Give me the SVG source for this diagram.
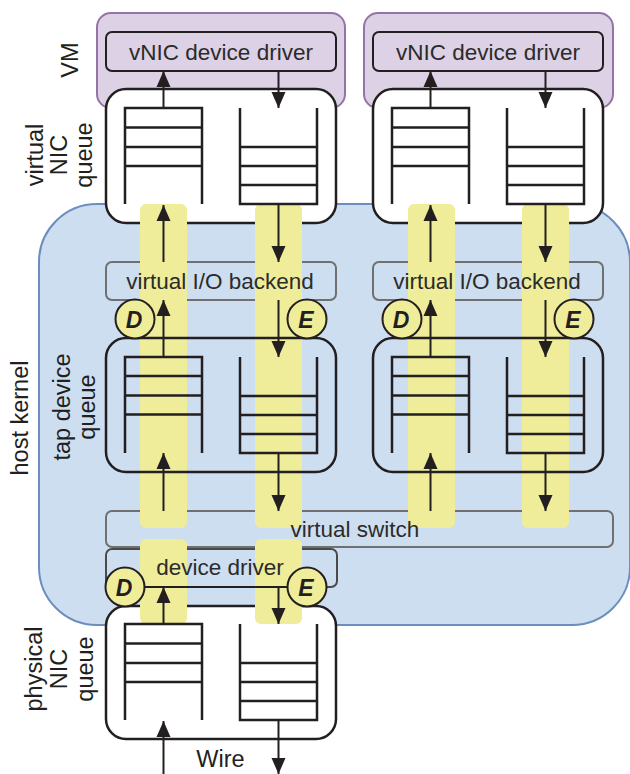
<svg xmlns="http://www.w3.org/2000/svg" width="630" height="774" viewBox="0 0 630 774">
<defs>
<marker id="ah" markerUnits="userSpaceOnUse" markerWidth="17" markerHeight="17" viewBox="0 0 17 17" refX="16" refY="8.5" orient="auto">
<path d="M0,1.5 L16,8.5 L0,15.5 z" fill="#231f20"/>
</marker>
<style>
.vm{fill:#ddd1e5;stroke:#9673a6;stroke-width:2}
.hk{fill:#cddef0;stroke:#6c8ebf;stroke-width:2}
.qbox{fill:#ffffff;stroke:#231f20;stroke-width:2.5}
.tbox{fill:none;stroke:#231f20;stroke-width:2.5}
.drv{fill:none;stroke:#231f20;stroke-width:2}
.gbox{fill:none;stroke:#707070;stroke-width:2}
.dbox{fill:none;stroke:#4a4a4a;stroke-width:2}
.ys{fill:#efed99}
.q{fill:none;stroke:#231f20;stroke-width:2.5}
.ar{fill:none;stroke:#231f20;stroke-width:2;marker-end:url(#ah)}
.ln{fill:none;stroke:#231f20;stroke-width:2}
.circ{fill:#efed99;stroke:#231f20;stroke-width:2}
.t{font-family:"Liberation Sans",Arial,sans-serif;font-size:22.5px;fill:#2b2b2b;text-anchor:middle}
.lab{font-family:"Liberation Sans",Arial,sans-serif;font-size:23.5px;fill:#231f20;text-anchor:middle}
.de{font-family:"Liberation Sans",Arial,sans-serif;font-size:23px;font-weight:bold;font-style:italic;fill:#231f20;text-anchor:middle}
</style>
</defs>

<!-- background containers -->
<g id="vm-left"><rect class="vm" x="97" y="13" width="248" height="95" rx="14"/></g>
<g id="vm-right"><rect class="vm" x="364" y="13" width="249" height="95" rx="14"/></g>
<g id="host-kernel"><rect class="hk" x="39" y="204" width="591" height="421" rx="58"/></g>

<!-- white queue boxes -->
<g id="vnic-queue-left-box"><rect class="qbox" x="106" y="89" width="230" height="134" rx="20"/></g>
<g id="vnic-queue-right-box"><rect class="qbox" x="373" y="89" width="230" height="134" rx="20"/></g>
<g id="phys-queue-box"><rect class="qbox" x="106" y="606" width="230" height="133" rx="20"/></g>

<!-- gray boxes -->
<g id="backend-left-box"><rect class="gbox" x="106" y="262" width="230" height="38" rx="6"/></g>
<g id="backend-right-box"><rect class="gbox" x="373" y="262" width="230" height="38" rx="6"/></g>
<g id="vswitch-box"><rect class="gbox" x="106" y="511" width="507" height="36" rx="6"/></g>
<g id="devdrv-box"><rect class="dbox" x="106" y="549" width="231" height="38" rx="6"/></g>

<!-- yellow highlight strips -->
<g id="highlights">
<rect class="ys" x="140" y="204" width="47" height="324" rx="6"/>
<rect class="ys" x="255" y="204" width="47" height="324" rx="6"/>
<rect class="ys" x="408" y="204" width="47" height="324" rx="6"/>
<rect class="ys" x="522" y="204" width="47" height="324" rx="6"/>
<rect class="ys" x="140" y="539" width="47" height="85" rx="6"/>
<rect class="ys" x="255" y="539" width="47" height="85" rx="6"/>
</g>

<!-- texts of gray boxes -->
<g id="backend-left"><text class="t" x="220" y="289">virtual I/O backend</text></g>
<g id="backend-right"><text class="t" x="487" y="289">virtual I/O backend</text></g>
<g id="vswitch"><text class="t" x="355" y="537">virtual switch</text></g>
<g id="devdrv"><text class="t" x="220" y="575">device driver</text><line class="ln" x1="125" y1="587" x2="307" y2="587"/></g>

<!-- vNIC drivers -->
<g id="vnic-driver-left"><rect class="drv" x="106" y="32" width="230" height="39" rx="6"/><text class="t" x="221" y="60">vNIC device driver</text></g>
<g id="vnic-driver-right"><rect class="drv" x="373" y="32" width="230" height="39" rx="6"/><text class="t" x="488" y="60">vNIC device driver</text></g>

<!-- tap boxes -->
<g id="tap-left-box"><rect class="tbox" x="106" y="338" width="230" height="134" rx="20"/></g>
<g id="tap-right-box"><rect class="tbox" x="373" y="338" width="230" height="134" rx="20"/></g>

<!-- queues -->
<g id="queues">
<path class="q" d="M125,204 V108 H202 V204 M125,127.5 H202 M125,147 H202 M125,166 H202"/>
<path class="q" d="M240,108 V204 H317 V108 M240,147 H317 M240,166 H317 M240,185 H317"/>
<path class="q" d="M392,204 V108 H469 V204 M392,127.5 H469 M392,147 H469 M392,166 H469"/>
<path class="q" d="M507,108 V204 H584 V108 M507,147 H584 M507,166 H584 M507,185 H584"/>
<path class="q" d="M125,453 V357 H202 V453 M125,376 H202 M125,395.5 H202 M125,414.5 H202"/>
<path class="q" d="M240,357 V453 H317 V357 M240,396 H317 M240,415 H317 M240,434 H317"/>
<path class="q" d="M392,453 V357 H469 V453 M392,376 H469 M392,395.5 H469 M392,414.5 H469"/>
<path class="q" d="M507,357 V453 H584 V357 M507,396 H584 M507,415 H584 M507,434 H584"/>
<path class="q" d="M125,720 V624 H202 V720 M125,643.5 H202 M125,663 H202 M125,682 H202"/>
<path class="q" d="M240,624 V720 H317 V624 M240,663 H317 M240,682 H317 M240,701 H317"/>
</g>

<!-- connectors -->
<g id="connectors">
<line class="ar" x1="163.5" y1="108" x2="163.5" y2="71"/>
<line class="ar" x1="278.5" y1="71" x2="278.5" y2="108"/>
<line class="ar" x1="163.5" y1="262" x2="163.5" y2="205"/>
<line class="ar" x1="278.5" y1="204" x2="278.5" y2="262"/>
<line class="ar" x1="163.5" y1="357" x2="163.5" y2="300"/>
<line class="ar" x1="278.5" y1="300" x2="278.5" y2="357"/>
<line class="ar" x1="163.5" y1="511" x2="163.5" y2="453"/>
<line class="ar" x1="278.5" y1="453" x2="278.5" y2="511"/>

<line class="ar" x1="430.5" y1="108" x2="430.5" y2="71"/>
<line class="ar" x1="545.5" y1="71" x2="545.5" y2="108"/>
<line class="ar" x1="430.5" y1="262" x2="430.5" y2="205"/>
<line class="ar" x1="545.5" y1="204" x2="545.5" y2="262"/>
<line class="ar" x1="430.5" y1="357" x2="430.5" y2="300"/>
<line class="ar" x1="545.5" y1="300" x2="545.5" y2="357"/>
<line class="ar" x1="430.5" y1="511" x2="430.5" y2="453"/>
<line class="ar" x1="545.5" y1="453" x2="545.5" y2="511"/>

<line class="ar" x1="163.5" y1="624" x2="163.5" y2="587"/>
<line class="ar" x1="278.5" y1="587" x2="278.5" y2="624"/>
<line class="ar" x1="163.5" y1="774" x2="163.5" y2="721"/>
<line class="ar" x1="278.5" y1="720" x2="278.5" y2="774"/>
</g>

<!-- D/E markers -->
<g id="d-tap-left"><circle class="circ" cx="135" cy="319" r="19.5"/><text class="de" x="134" y="327.5">D</text></g>
<g id="e-tap-left"><circle class="circ" cx="307" cy="319" r="19.5"/><text class="de" x="306" y="327.5">E</text></g>
<g id="d-tap-right"><circle class="circ" cx="402" cy="319" r="19.5"/><text class="de" x="401" y="327.5">D</text></g>
<g id="e-tap-right"><circle class="circ" cx="574" cy="319" r="19.5"/><text class="de" x="573" y="327.5">E</text></g>
<g id="d-phys"><circle class="circ" cx="125" cy="587" r="19.5"/><text class="de" x="124" y="595.5">D</text></g>
<g id="e-phys"><circle class="circ" cx="307" cy="587" r="19.5"/><text class="de" x="306" y="595.5">E</text></g>

<!-- side labels -->
<g id="label-vm"><text class="lab" transform="translate(78,60) rotate(-90)">VM</text></g>
<g id="label-vnic-queue">
<text class="lab" transform="translate(43,155) rotate(-90)">virtual</text>
<text class="lab" transform="translate(67,155) rotate(-90)">NIC</text>
<text class="lab" transform="translate(92,155) rotate(-90)">queue</text>
</g>
<g id="label-host-kernel"><text class="lab" transform="translate(28,418) rotate(-90)">host kernel</text></g>
<g id="label-tap-queue">
<text class="lab" transform="translate(70,407) rotate(-90)">tap device</text>
<text class="lab" transform="translate(95,407) rotate(-90)">queue</text>
</g>
<g id="label-phys-queue">
<text class="lab" transform="translate(42,669) rotate(-90)">physical</text>
<text class="lab" transform="translate(67,669) rotate(-90)">NIC</text>
<text class="lab" transform="translate(93,669) rotate(-90)">queue</text>
</g>
<g id="label-wire"><text class="lab" x="220.5" y="767">Wire</text></g>
</svg>
